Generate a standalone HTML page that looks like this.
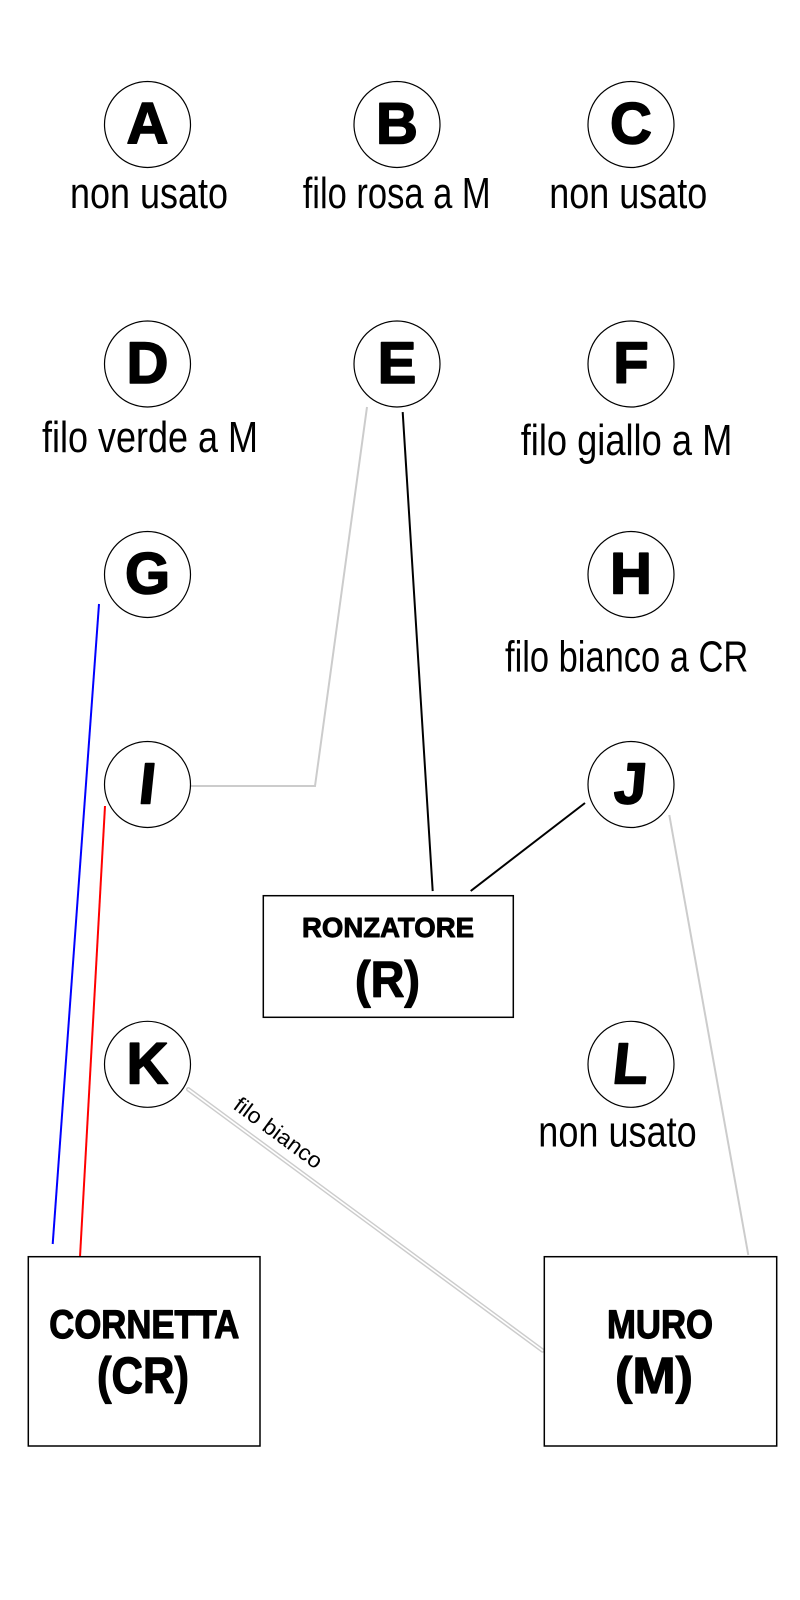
<!DOCTYPE html>
<html>
<head>
<meta charset="utf-8">
<style>
  html, body { margin:0; padding:0; background:#fff; }
  svg { display:block; }
  .lbl { font-family:"Liberation Sans", sans-serif; font-size:44px; fill:#000; }
  .let { font-family:"Liberation Sans", sans-serif; font-weight:bold; font-size:58px; fill:#000; stroke:#000; stroke-width:1.6; stroke-linejoin:round; }
  .bx { font-family:"Liberation Sans", sans-serif; font-weight:bold; fill:#000; stroke:#000; stroke-linejoin:round; }
</style>
</head>
<body>
<svg width="800" height="1600" viewBox="0 0 800 1600" xmlns="http://www.w3.org/2000/svg">
  <rect width="800" height="1600" fill="#fff"/>

  <!-- connectors -->
  <polyline points="367,407 315,786 191,786" fill="none" stroke="#cccccc" stroke-width="2"/>
  <line x1="402.7" y1="412" x2="432.7" y2="891" stroke="#000" stroke-width="2"/>
  <line x1="585" y1="803" x2="470.7" y2="891" stroke="#000" stroke-width="2"/>
  <line x1="669.3" y1="815" x2="748.3" y2="1255" stroke="#cccccc" stroke-width="2"/>
  <line x1="99" y1="604" x2="52.7" y2="1244" stroke="#0000ff" stroke-width="2"/>
  <line x1="105" y1="806" x2="80" y2="1257" stroke="#ff0000" stroke-width="2"/>
  <line x1="188.3" y1="1089.3" x2="542.5" y2="1350.5" stroke="#cccccc" stroke-width="4.5" stroke-linecap="round"/>
  <line x1="188.3" y1="1089.3" x2="542.5" y2="1350.5" stroke="#ffffff" stroke-width="1.6" stroke-linecap="round"/>
  <text transform="translate(232,1108) rotate(36.4)" font-family="Liberation Sans, sans-serif" font-size="22" textLength="104" lengthAdjust="spacingAndGlyphs" fill="#000">filo bianco</text>

  <!-- circles -->
  <g fill="#fff" stroke="#000" stroke-width="1.2">
    <circle cx="147.5" cy="124.5" r="43"/>
    <circle cx="397" cy="124.5" r="43"/>
    <circle cx="631" cy="124.5" r="43"/>
    <circle cx="147.5" cy="364" r="43"/>
    <circle cx="397" cy="364" r="43"/>
    <circle cx="631" cy="364" r="43"/>
    <circle cx="147.5" cy="574.5" r="43"/>
    <circle cx="631" cy="574.5" r="43"/>
    <circle cx="147.5" cy="784.5" r="43"/>
    <circle cx="631" cy="784.5" r="43"/>
    <circle cx="147.5" cy="1064.3" r="43"/>
    <circle cx="631" cy="1064.3" r="43"/>
  </g>

  <!-- circle letters -->
  <g class="let" text-anchor="middle">
    <text x="147.5" y="143.5">A</text>
    <text x="397" y="143.5">B</text>
    <text x="631" y="143.5">C</text>
    <text x="147.5" y="383">D</text>
    <text x="397" y="383">E</text>
    <text x="631" y="383">F</text>
    <text x="147.5" y="593.5">G</text>
    <text x="631" y="593.5">H</text>
    <text transform="translate(145.5,803.5) skewX(-6)">I</text>
    <text transform="translate(629,803.5) skewX(-5)">J</text>
    <text x="147.5" y="1083.3">K</text>
    <text transform="translate(629,1083.3) skewX(-6)">L</text>
  </g>

  <!-- labels -->
  <text class="lbl" x="70" y="208" textLength="158" lengthAdjust="spacingAndGlyphs">non usato</text>
  <text class="lbl" x="302.7" y="208" textLength="188" lengthAdjust="spacingAndGlyphs">filo rosa a M</text>
  <text class="lbl" x="549.3" y="208" textLength="158" lengthAdjust="spacingAndGlyphs">non usato</text>
  <text class="lbl" x="42" y="452" textLength="216" lengthAdjust="spacingAndGlyphs">filo verde a M</text>
  <text class="lbl" x="520.7" y="455" textLength="211.6" lengthAdjust="spacingAndGlyphs">filo giallo a M</text>
  <text class="lbl" x="505" y="671.5" textLength="243.3" lengthAdjust="spacingAndGlyphs">filo bianco a CR</text>
  <text class="lbl" x="538.3" y="1146.5" textLength="158.4" lengthAdjust="spacingAndGlyphs">non usato</text>

  <!-- boxes -->
  <g fill="#fff" stroke="#000" stroke-width="1.5">
    <rect x="263.3" y="895.7" width="250" height="121.6"/>
    <rect x="28.3" y="1256.7" width="231.7" height="189.3"/>
    <rect x="544.3" y="1256.7" width="232.4" height="189.3"/>
  </g>

  <text class="bx" x="302" y="937" font-size="27.5" stroke-width="0.9" textLength="172" lengthAdjust="spacingAndGlyphs">RONZATORE</text>
  <text class="bx" x="355" y="997" font-size="51" stroke-width="1.2" textLength="65" lengthAdjust="spacingAndGlyphs">(R)</text>

  <text class="bx" x="49.3" y="1338" font-size="40" stroke-width="1.2" textLength="190" lengthAdjust="spacingAndGlyphs">CORNETTA</text>
  <text class="bx" x="97" y="1393" font-size="51" stroke-width="1.2" textLength="92" lengthAdjust="spacingAndGlyphs">(CR)</text>

  <text class="bx" x="607" y="1338" font-size="40" stroke-width="1.2" textLength="106" lengthAdjust="spacingAndGlyphs">MURO</text>
  <text class="bx" x="615" y="1393" font-size="51" stroke-width="1.2" textLength="78" lengthAdjust="spacingAndGlyphs">(M)</text>
</svg>
</body>
</html>
